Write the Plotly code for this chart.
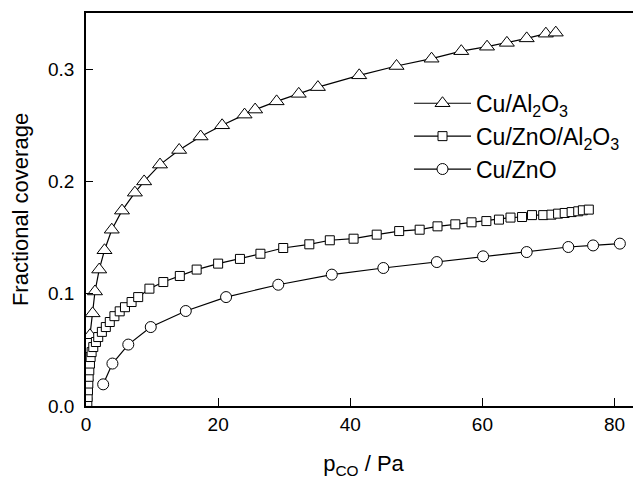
import plotly.graph_objects as go

# Cu/Al2O3 (triangles)
p_al = [0.6, 1.0, 1.36, 2.0, 2.8, 3.9, 5.45, 7.4, 8.8, 11.2, 14.1, 17.35, 20.6, 24.0,
        25.6, 28.85, 32.2, 35.1, 41.35, 47.0, 52.3, 56.8, 60.7, 63.7, 66.7, 69.6, 71.1]
th_al = [0.063, 0.0825, 0.102, 0.1215, 0.1387, 0.157, 0.174, 0.190, 0.200, 0.215, 0.228,
         0.240, 0.250, 0.2595, 0.264, 0.2713, 0.278, 0.284, 0.2945, 0.3028, 0.3093,
         0.316, 0.320, 0.3234, 0.3274, 0.3316, 0.3325]

# Cu/ZnO/Al2O3 (squares)
p_zal = [0.2, 0.25, 0.3, 0.35, 0.4, 0.5, 0.6, 0.7, 0.85, 1.1, 1.5, 1.85, 2.4, 3.0, 3.6,
         4.3, 5.1, 5.9, 6.9, 7.9, 9.6, 11.7, 14.2, 16.75, 20.0, 23.3, 26.4, 29.85, 33.8,
         36.9, 40.5, 44.0, 47.4, 50.5, 53.2, 55.9, 58.35, 60.6, 62.5, 64.25, 66.0, 67.5,
         69.2, 70.45, 71.45, 72.45, 73.5, 74.5, 75.2, 76.1]
th_zal = [0.0036, 0.008, 0.014, 0.020, 0.026, 0.0318, 0.0378, 0.0436, 0.048, 0.0525,
          0.057, 0.0614, 0.066, 0.0703, 0.0748, 0.080, 0.0843, 0.088, 0.0926, 0.097,
          0.1045, 0.1104, 0.1158, 0.1215, 0.1268, 0.131, 0.1356, 0.1407, 0.144, 0.1476,
          0.149, 0.1526, 0.1558, 0.157, 0.160, 0.1618, 0.1636, 0.1647, 0.166, 0.1678,
          0.1683, 0.170, 0.170, 0.1704, 0.1713, 0.1719, 0.1727, 0.1734, 0.1743, 0.1749]

# Cu/ZnO (circles)
p_zn = [2.6, 4.0, 6.4, 9.8, 15.1, 21.2, 29.1, 37.2, 45.0, 53.1, 60.1, 66.7, 73.0, 76.75, 80.8]
th_zn = [0.0193, 0.0378, 0.0547, 0.0703, 0.0846, 0.097, 0.108, 0.117, 0.1229, 0.1282,
         0.1333, 0.1371, 0.1416, 0.143, 0.1446]

FONT = "Liberation Sans, Arial, sans-serif"

fig = go.Figure()

def add_series(x, y, name, symbol, size):
    fig.add_trace(go.Scatter(
        x=x, y=y, name=name, mode="lines+markers",
        line=dict(color="black", width=1.2),
        marker=dict(symbol=symbol, size=size, color="white",
                    line=dict(color="black", width=1)),
    ))

add_series(p_al, th_al, "Cu/Al<sub>2</sub>O<sub>3</sub>", "triangle-up", 13)
add_series(p_zal, th_zal, "Cu/ZnO/Al<sub>2</sub>O<sub>3</sub>", "square", 9)
add_series(p_zn, th_zn, "Cu/ZnO", "circle", 11)

# the page body has an 8px margin, so the figure is a bit smaller than the window
fig.update_layout(
    width=633, height=473,
    margin=dict(l=78, r=0, t=5, b=75),
    plot_bgcolor="white", paper_bgcolor="white",
    font=dict(family=FONT, color="black", size=19),
    showlegend=True,
    legend=dict(x=0.582, y=0.825, xanchor="left", yanchor="top",
                bgcolor="rgba(0,0,0,0)", font=dict(size=23),
                itemwidth=57, tracegroupgap=0),
    xaxis=dict(
        range=[0, 84], tickvals=[0, 20, 40, 60, 80], automargin=False,
        ticks="inside", ticklen=8, tickcolor="black", tickwidth=1,
        showline=True, linecolor="black", linewidth=1.5, mirror=True,
        showgrid=False, zeroline=False,
        title=dict(text="p<sub>CO</sub> / Pa", font=dict(size=22), standoff=22),
    ),
    yaxis=dict(
        range=[0, 0.35], tickvals=[0, 0.1, 0.2, 0.3], tickformat=".1f",
        automargin=False,
        ticks="inside", ticklen=7, tickcolor="black", tickwidth=1,
        showline=True, linecolor="black", linewidth=1.5, mirror=False,
        showgrid=False, zeroline=False, ticklabelstandoff=6,
        title=dict(text="Fractional coverage", font=dict(size=22), standoff=14),
    ),
)

fig.write_html("out.html")
